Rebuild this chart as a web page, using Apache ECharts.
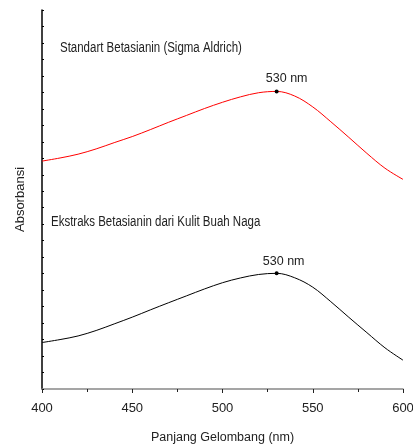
<!DOCTYPE html>
<html>
<head>
<meta charset="utf-8">
<script src="https://cdn.jsdelivr.net/npm/echarts@6/dist/echarts.min.js"></script>
<style>html,body{margin:0;padding:0;background:#fff;}#c{width:413px;height:445px;}</style>
</head>
<body>
<div id="c"></div>
<script>
var wavelengths = [400,410,420,430,440,450,460,470,480,490,500,510,520,530,540,550,560,570,580,590,600];
var standardAbs = [13.83,14.02,14.25,14.57,14.95,15.32,15.74,16.18,16.60,17.02,17.40,17.73,17.98,18.06,17.78,17.12,16.22,15.27,14.30,13.40,12.72];
var extractAbs  = [2.82,3.00,3.22,3.55,3.95,4.36,4.80,5.23,5.65,6.07,6.45,6.74,6.95,7.02,6.75,6.18,5.30,4.35,3.42,2.50,1.75];
var xTicks = [400,450,500,550,600];
var peakWavelength = 530;
var peakLabel = '530 nm';
var standardName = 'Standart Betasianin (Sigma Aldrich)';
var extractName = 'Ekstraks Betasianin dari Kulit Buah Naga';
var xName = 'Panjang Gelombang (nm)';
var yName = 'Absorbansi';

var FONT = "'Liberation Sans', Arial, sans-serif";
function pairs(ys){ return wavelengths.map(function(w,i){ return [w, ys[i]]; }); }
var pi = wavelengths.indexOf(peakWavelength);

var chart = echarts.init(document.getElementById('c'), null, {renderer:'canvas'});
chart.setOption({
  animation:false,
  backgroundColor:'#fff',
  grid:{left:42, right:10, top:10, bottom:56, outerBoundsMode:'none', containLabel:false},
  xAxis:{
    type:'value', min:xTicks[0], max:xTicks[xTicks.length-1], interval:50,
    name:xName, nameLocation:'middle', nameGap:42,
    nameTextStyle:{fontFamily:FONT, fontSize:12.5, color:'#222'},
    axisLine:{lineStyle:{color:'#888', width:1.5}},
    axisTick:{show:true, length:4, lineStyle:{color:'#222'}},
    minorTick:{show:true, splitNumber:2, length:3, lineStyle:{color:'#222'}},
    splitLine:{show:false},
    axisLabel:{fontFamily:FONT, fontSize:13, color:'#222', margin:13}
  },
  yAxis:{
    type:'value', min:0, max:23, interval:1,
    name:yName, nameLocation:'middle', nameGap:15, nameRotate:90,
    nameTextStyle:{fontFamily:FONT, fontSize:13, color:'#222'},
    axisLine:{show:true, lineStyle:{color:'#000', width:1.5}},
    axisTick:{show:true, inside:true, length:2, lineStyle:{color:'#000'}},
    axisLabel:{show:false},
    splitLine:{show:false}
  },
  series:[
    {
      type:'line', data:pairs(standardAbs), smooth:0.35, symbol:'none',
      lineStyle:{color:'#ff0000', width:1}, z:3,
      markPoint:{
        symbol:'circle', symbolSize:4, itemStyle:{color:'#000'},
        label:{show:true, formatter:peakLabel, position:'top', offset:[10,1], fontFamily:FONT, fontSize:12.5, color:'#222'},
        data:[{coord:[wavelengths[pi], standardAbs[pi]]}]
      }
    },
    {
      type:'line', data:pairs(extractAbs), smooth:0.35, symbol:'none',
      lineStyle:{color:'#000', width:1}, z:3,
      markPoint:{
        symbol:'circle', symbolSize:4, itemStyle:{color:'#000'},
        label:{show:true, formatter:peakLabel, position:'top', offset:[7,2], fontFamily:FONT, fontSize:12.5, color:'#222'},
        data:[{coord:[wavelengths[pi], extractAbs[pi]]}]
      }
    }
  ],
  graphic:[
    {type:'text', x:60, y:41, scaleX:0.82, style:{text:standardName, font:'14px '+FONT, fill:'#222'}},
    {type:'text', x:51, y:215, scaleX:0.82, style:{text:extractName, font:'14px '+FONT, fill:'#222'}}
  ]
});
</script>
</body>
</html>
